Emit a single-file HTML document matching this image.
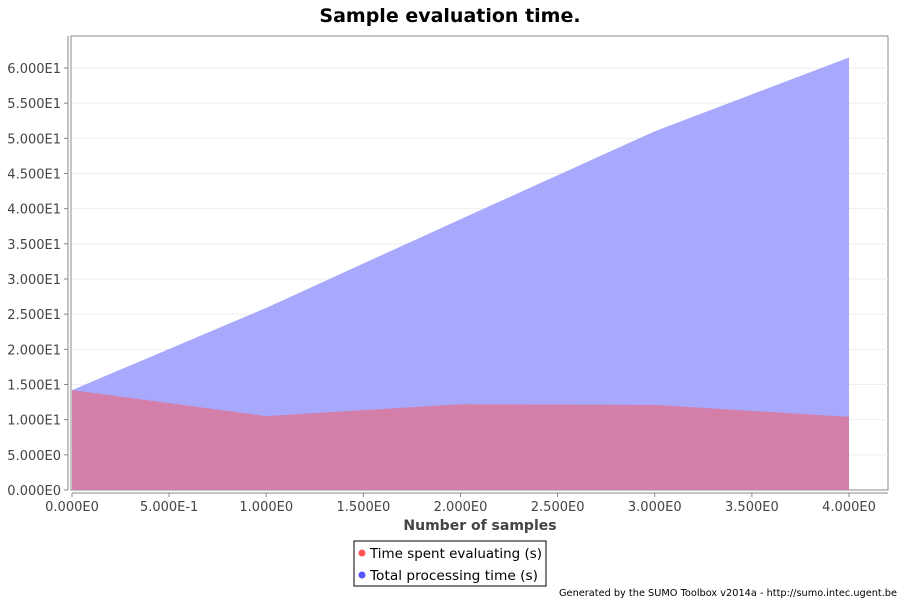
<!DOCTYPE html>
<html><head><meta charset="utf-8"><style>
body{margin:0;background:#fff;font-family:"DejaVu Sans","Liberation Sans",sans-serif;}
svg text{font-family:"DejaVu Sans","Liberation Sans",sans-serif;}
</style></head><body>
<svg id="chart" width="900" height="600">
<text x="450" y="22" text-anchor="middle" font-size="19" font-weight="bold" fill="#000">Sample evaluation time.</text>
<rect x="71" y="36" width="817" height="454" fill="#fff" stroke="#888"/>
<g id="grid"></g>
<g id="areas"></g>
<g id="axes"></g>
<text x="480" y="530" text-anchor="middle" font-size="14" font-weight="bold" fill="#444">Number of samples</text>
<g>
<rect x="354" y="541" width="192" height="45" fill="#fff" stroke="#000"/>
<g><circle cx="362" cy="553" r="3.5" fill="#ff5555"/><text x="370" y="558" font-size="13.3" fill="#000" textLength="172" lengthAdjust="spacingAndGlyphs">Time spent evaluating (s)</text></g>
<g><circle cx="362" cy="575" r="3.5" fill="#5555ff"/><text x="370" y="580" font-size="13.3" fill="#000" textLength="168" lengthAdjust="spacingAndGlyphs">Total processing time (s)</text></g>
</g>
<text x="897" y="596" text-anchor="end" font-size="10" fill="#000" textLength="338" lengthAdjust="spacingAndGlyphs">Generated by the SUMO Toolbox v2014a - http://sumo.intec.ugent.be</text>
</svg>
<script>
const xValues=[0,1,2,3,4];
const totalTime=[14.2,25.9,38.5,51.0,61.5];
const evalTime=[14.2,10.5,12.2,12.1,10.4];
const yTicks=[0,5,10,15,20,25,30,35,40,45,50,55,60];
const yTickLabels=["0.000E0","5.000E0","1.000E1","1.500E1","2.000E1","2.500E1","3.000E1","3.500E1","4.000E1","4.500E1","5.000E1","5.500E1","6.000E1"];
const xTicks=[0,0.5,1,1.5,2,2.5,3,3.5,4];
const xTickLabels=["0.000E0","5.000E-1","1.000E0","1.500E0","2.000E0","2.500E0","3.000E0","3.500E0","4.000E0"];
const NS="http://www.w3.org/2000/svg";
const X=v=>72+v*194.25, Y=v=>490-v*7.033;
function mk(t,a,p){const e=document.createElementNS(NS,t);for(const k in a)e.setAttribute(k,a[k]);p.appendChild(e);return e;}
const grid=document.getElementById('grid'),areas=document.getElementById('areas'),axes=document.getElementById('axes');
yTicks.forEach((v,i)=>{
  if(v>0){const g=mk('line',{x1:72,x2:888,y1:Y(v),y2:Y(v),stroke:'#eee','stroke-width':1},grid);
  
  }
  mk('line',{x1:64,x2:68,y1:Y(v),y2:Y(v),stroke:'#888'},axes);
  const t=mk('text',{x:61,y:Y(v)+5,'text-anchor':'end','font-size':13,fill:'#444'},axes);t.textContent=yTickLabels[i];
  
  
});
mk('line',{x1:68,x2:68,y1:36,y2:490,stroke:'#888'},axes);
mk('line',{x1:72,x2:888,y1:493,y2:493,stroke:'#888'},axes);
xTicks.forEach((v,i)=>{
  mk('line',{x1:X(v),x2:X(v),y1:493,y2:497,stroke:'#888'},axes);
  const t=mk('text',{x:X(v),y:511,'text-anchor':'middle','font-size':13,fill:'#444'},axes);t.textContent=xTickLabels[i];
  
  
});
function area(vals,fill,name){
  let d='M'+X(xValues[0])+' '+Y(0);
  vals.forEach((v,i)=>d+=' L'+X(xValues[i])+' '+Y(v));
  d+=' L'+X(xValues[xValues.length-1])+' '+Y(0)+' Z';
  const p=mk('path',{d:d,fill:fill},areas);
  
  
}
area(totalTime,'#a8a8fd','area-total-processing-time');
area(evalTime,'rgba(255,85,85,0.5)','area-time-spent-evaluating');
</script>
</body></html>
